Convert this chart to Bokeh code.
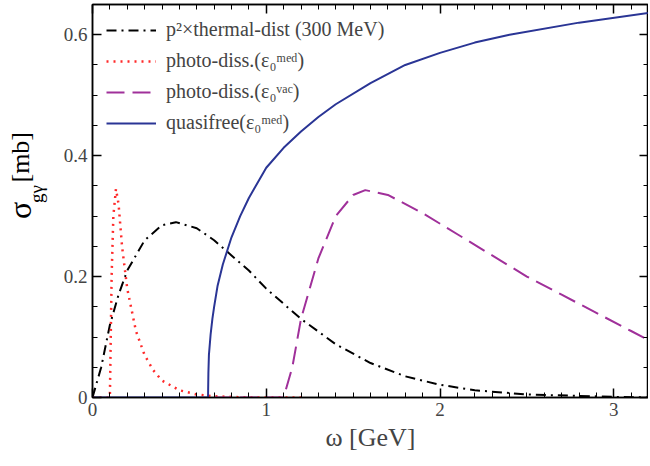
from bokeh.plotting import figure
from bokeh.layouts import row
from bokeh.models import LinearAxis, Legend, LegendItem, Range1d, FixedTicker
from bokeh.core.properties import value
from bokeh.embed import file_html
from bokeh.resources import INLINE

# p^2 x thermal distribution (300 MeV)
th_x = [0, 0.05, 0.1, 0.15, 0.2, 0.3, 0.4, 0.48, 0.6, 0.7, 0.8, 0.9, 1.0, 1.1, 1.2,
        1.4, 1.6, 1.8, 2.0, 2.2, 2.5, 3.0, 3.2]
th_y = [0, 0.05, 0.12, 0.17, 0.21, 0.26, 0.285, 0.29, 0.28, 0.26, 0.235, 0.21, 0.18,
        0.155, 0.13, 0.088, 0.057, 0.035, 0.021, 0.012, 0.005, 0.001, 0.0]
# photo-dissociation, in-medium binding
pm_x = [0.0, 0.1, 0.105, 0.11, 0.12, 0.135, 0.15, 0.17, 0.2, 0.25, 0.3, 0.35, 0.4,
        0.5, 0.6, 0.7, 0.9, 1.2]
pm_y = [0.0, 0.0, 0.1, 0.2, 0.3, 0.345, 0.32, 0.25, 0.18, 0.11, 0.07, 0.045, 0.028,
        0.012, 0.005, 0.002, 0.0, 0.0]
# photo-dissociation, vacuum binding
pv_x = [0.7, 1.1, 1.15, 1.2, 1.3, 1.4, 1.5, 1.57, 1.7, 1.9, 2.1, 2.3, 2.5, 2.7, 2.9, 3.1, 3.2]
pv_y = [0.0, 0.0, 0.05, 0.13, 0.23, 0.3, 0.335, 0.343, 0.335, 0.305, 0.27, 0.235, 0.2,
        0.17, 0.14, 0.11, 0.095]
# quasifree, in-medium binding
qf_x = [0.0, 0.665, 0.667, 0.67, 0.68, 0.69, 0.7, 0.72, 0.75, 0.8, 0.85, 0.9, 1.0,
        1.1, 1.2, 1.3, 1.4, 1.6, 1.8, 2.0, 2.2, 2.4, 2.8, 3.2]
qf_y = [0.0, 0.0, 0.04, 0.07, 0.105, 0.13, 0.15, 0.185, 0.22, 0.265, 0.3, 0.33, 0.38,
        0.413, 0.44, 0.464, 0.485, 0.52, 0.55, 0.57, 0.587, 0.6, 0.62, 0.636]

labels = ["p²×thermal-dist (300 MeV)", "photo-diss.(ε₀ᵐᵉᵈ)",
          "photo-diss.(ε₀ᵛᵃᶜ)", "quasifree(ε₀ᵐᵉᵈ)"]

FONT = "Liberation Serif"
H = 458
LW = 50

# narrow strip holding the y-axis title (sigma with subscript)
lab = figure(width=LW, height=H, x_range=Range1d(0, LW), y_range=Range1d(0, H),
             min_border=0, output_backend="svg", toolbar_location=None, tools="")
lab.axis.visible = False
lab.grid.visible = False
lab.outline_line_color = None
lab.text(x=[19], y=[218], text=["σ"], angle=1.5708, text_font=value(FONT),
         text_font_size="32px", text_align="center", text_baseline="middle")
lab.text(x=[36], y=[237], text=["gγ"], angle=1.5708, text_font=value(FONT),
         text_font_size="19px", text_align="center", text_baseline="middle")
lab.text(x=[20], y=[280], text=["[mb]"], angle=1.5708, text_font=value(FONT),
         text_font_size="26px", text_align="center", text_baseline="middle")

p = figure(width=648 - LW, height=H, min_border_left=92 - LW, min_border_right=0,
           min_border_top=4, min_border_bottom=61, x_range=Range1d(0, 3.2),
           y_range=Range1d(0, 0.65), output_backend="svg", toolbar_location=None, tools="")
p.grid.visible = False
p.outline_line_color = "black"
p.outline_line_width = 1.5

r1 = p.line(th_x, th_y, color="black", line_width=2, line_dash="10 5 2 5")
r2 = p.line(pm_x, pm_y, color="#ff2a2a", line_width=2.5, line_dash="2 5")
r3 = p.line(pv_x, pv_y, color="#a0309a", line_width=2, line_dash="18 8")
r4 = p.line(qf_x, qf_y, color="#2a3595", line_width=2)

def style(ax, show_labels=True):
    ax.major_tick_in = 9
    ax.major_tick_out = 0
    ax.minor_tick_in = 5
    ax.minor_tick_out = 0
    ax.axis_line_width = 1.5
    ax.major_tick_line_color = "black"
    ax.minor_tick_line_color = "black"
    ax.major_tick_line_width = 1.5
    ax.minor_tick_line_width = 1
    ax.major_label_text_font = FONT
    ax.major_label_text_font_size = "19px"
    ax.axis_label_text_font = FONT
    ax.axis_label_text_font_style = "normal"
    if not show_labels:
        ax.major_label_text_font_size = "1px"
        ax.major_label_text_color = None
        ax.major_label_standoff = 0

xt = FixedTicker(ticks=[0, 1, 2, 3], minor_ticks=[i / 10 for i in range(33)])
yt = FixedTicker(ticks=[0, 0.2, 0.4, 0.6], minor_ticks=[i / 20 for i in range(14)])
p.xaxis.ticker = xt
p.yaxis.ticker = yt
p.xaxis.major_label_overrides = {0: "0", 1: "1", 2: "2", 3: "3"}
p.yaxis.major_label_overrides = {0: "0", 0.2: "0.2", 0.4: "0.4", 0.6: "0.6"}
style(p.xaxis[0])
style(p.yaxis[0])
p.xaxis.axis_label = "ω [GeV]"
p.xaxis.axis_label_text_font_size = "26px"
p.xaxis.axis_label_standoff = 4
top = LinearAxis(ticker=xt)
right = LinearAxis(ticker=yt)
style(top, False)
style(right, False)
p.add_layout(top, "above")
p.add_layout(right, "right")

legend = Legend(items=[LegendItem(label=l, renderers=[r]) for l, r in
                       zip(labels, [r1, r2, r3, r4])],
                location="top_left", border_line_color=None, background_fill_alpha=0,
                label_text_font=FONT, label_text_font_size="20px", glyph_width=50,
                label_standoff=10, spacing=8, padding=6, margin=14)
p.add_layout(legend)

layout = row(lab, p, spacing=0)
open("out.html", "w").write(file_html(layout, INLINE))
